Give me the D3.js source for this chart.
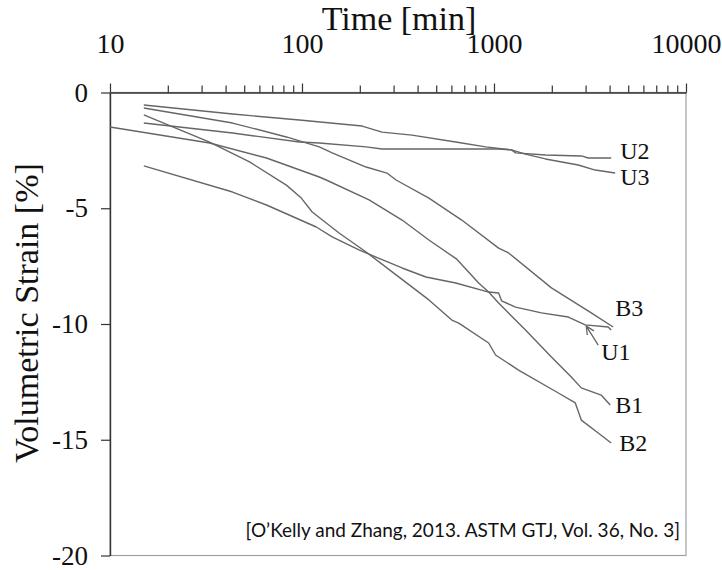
<!DOCTYPE html>
<html>
<head>
<meta charset="utf-8">
<script src="https://cdn.jsdelivr.net/npm/d3@7/dist/d3.min.js"></script>
<style>
  body { margin: 0; background: #fff; }
  svg { display: block; }
</style>
</head>
<body>
<script>
// time [min], volumetric strain [%]
var U2 = [[15,-1.32],[43.5,-1.75],[96.8,-2.14],[123,-2.18],[215.7,-2.35],[261,-2.44],[1057,-2.44],[1234,-2.48],[1295,-2.61],[1853,-2.70],[2849,-2.74],[3097,-2.83],[4077,-2.83]];
var U3 = [[15,-0.54],[43.5,-0.93],[96.8,-1.19],[205.6,-1.45],[261,-1.71],[374,-1.84],[632,-2.14],[904,-2.35],[1234,-2.48],[1459,-2.66],[1853,-2.87],[2748,-3.13],[3367,-3.35],[4276,-3.48]];
var B3 = [[15,-0.67],[43.5,-1.32],[82.9,-1.92],[123,-2.35],[143.6,-2.61],[215.7,-3.22],[277,-3.48],[309,-3.78],[458,-4.56],[679,-5.51],[1057,-6.72],[1191,-6.93],[1991,-8.44],[3210,-9.52],[4175,-10.13]];
var U1 = [[15,-3.17],[43.5,-4.30],[65.3,-4.86],[118.7,-5.81],[143.6,-6.24],[198,-6.80],[243,-7.11],[332,-7.58],[442,-7.97],[632,-8.23],[938,-8.62],[1057,-8.66],[1095,-9.0],[1295,-9.27],[1766,-9.52],[2439,-9.70],[2988,-10.04],[3933,-10.13],[4077,-10.26]];
var B1 = [[10,-1.49],[33,-2.18],[65.3,-2.83],[123,-3.65],[133.7,-3.78],[223.5,-4.64],[332,-5.51],[458,-6.37],[640,-7.2],[832,-8.23],[938,-8.62],[1057,-9.09],[1459,-10.26],[1991,-11.43],[2527,-12.29],[2849,-12.76],[3617,-13.07],[4029,-13.50]];
var B2 = [[15,-0.97],[33,-2.14],[53.3,-3.0],[82.9,-4.0],[99.2,-4.56],[113,-5.16],[156,-6.07],[215.7,-6.89],[309,-7.88],[458,-8.96],[603,-9.83],[655,-9.96],[938,-10.82],[1019,-11.34],[1342,-11.99],[2164,-12.98],[2651,-13.41],[2849,-14.15],[3490,-14.71],[4077,-15.14]];

var series = [U2, U3, B3, U1, B1, B2];
var labels = [["U2",4540,-2.52],["U3",4540,-3.63],["B3",4276,-9.31],["U1",3614,-11.21],["B1",4276,-13.5],["B2",4487,-15.14]];
var arrowU1 = [[3490,-10.91],[3024,-10.09]];

var xTicks = [10, 100, 1000, 10000];
var yTicks = [0, -5, -10, -15, -20];

var W = 722, H = 570;
var svg = d3.select("body").append("svg").attr("width", W).attr("height", H);

var x = d3.scaleLog().domain([10, 10000]).range([110, 686]);
var y = d3.scaleLinear().domain([0, -20]).range([92.5, 555.5]);

var serif = "'Liberation Serif', 'Times New Roman', serif";

// frame (right + bottom lighter)
svg.append("rect").attr("x", x(10)).attr("y", y(0))
  .attr("width", x(10000) - x(10)).attr("height", y(-20) - y(0))
  .attr("fill", "none").attr("stroke", "#a0a0a0").attr("stroke-width", 1.2);

// minor ticks
var minor = [];
[10, 100, 1000].forEach(function (d) { for (var k = 2; k < 10; k++) minor.push(d * k); });
svg.append("g").attr("transform", "translate(0," + y(0) + ")")
  .call(d3.axisTop(x).tickValues(minor).tickSize(7).tickFormat(""))
  .call(function (g) { g.select(".domain").remove(); })
  .selectAll("line").attr("stroke", "#333").attr("stroke-width", 1.2);

var topAxis = svg.append("g").attr("transform", "translate(0," + y(0) + ")")
  .call(d3.axisTop(x).tickValues(xTicks).tickSize(9).tickSizeOuter(0).tickPadding(31)
    .tickFormat(function (d) { return String(d); }));
topAxis.attr("font-size", 28).attr("font-family", serif);
topAxis.select(".domain").attr("stroke", "#333").attr("stroke-width", 1.4);
topAxis.selectAll("line").attr("stroke", "#333").attr("stroke-width", 1.2);
topAxis.selectAll("text").style("font-size", "28px").style("font-family", serif).attr("fill", "#111");

var leftAxis = svg.append("g").attr("transform", "translate(" + x(10) + ",0)")
  .call(d3.axisLeft(y).tickValues(yTicks).tickSize(9).tickSizeOuter(0).tickPadding(13)
    .tickFormat(function (d) { return String(d); }));
leftAxis.attr("font-size", 27).attr("font-family", serif);
leftAxis.select(".domain").attr("stroke", "#333").attr("stroke-width", 1.4);
leftAxis.selectAll("line").attr("stroke", "#333").attr("stroke-width", 1.2);
leftAxis.selectAll("text").style("font-size", "27px").style("font-family", serif).attr("fill", "#111");

svg.append("text").attr("x", 399).attr("y", 30).attr("text-anchor", "middle")
  .attr("font-family", serif).attr("font-size", 34).attr("fill", "#111").text("Time [min]");

svg.append("text").attr("transform", "translate(38,313) rotate(-90)").attr("text-anchor", "middle")
  .attr("font-family", serif).attr("font-size", 34).attr("fill", "#111").text("Volumetric Strain [%]");

var line = d3.line().x(function (d) { return x(d[0]); }).y(function (d) { return y(d[1]); });

svg.append("g").selectAll("path").data(series).enter().append("path")
  .attr("d", line).attr("fill", "none").attr("stroke", "#666").attr("stroke-width", 1.4)
  .attr("stroke-linejoin", "round");

svg.append("g").selectAll("text").data(labels).enter().append("text")
  .attr("x", function (d) { return x(d[1]); })
  .attr("y", function (d) { return y(d[2]); })
  .attr("dy", "0.35em")
  .attr("font-family", serif).attr("font-size", 24).attr("fill", "#111")
  .text(function (d) { return d[0]; });

// arrow pointing to U1
var a0 = arrowU1[0], a1 = arrowU1[1];
var tx = x(a1[0]), ty = y(a1[1]), sx = x(a0[0]), sy = y(a0[1]);
var ang = Math.atan2(sy - ty, sx - tx);
svg.append("path")
  .attr("d", "M" + sx + "," + sy + "L" + tx + "," + ty +
    "M" + (tx + 9 * Math.cos(ang - 0.45)) + "," + (ty + 9 * Math.sin(ang - 0.45)) +
    "L" + tx + "," + ty +
    "L" + (tx + 9 * Math.cos(ang + 0.45)) + "," + (ty + 9 * Math.sin(ang + 0.45)))
  .attr("fill", "none").attr("stroke", "#666").attr("stroke-width", 1.3);

svg.append("text").attr("x", 680).attr("y", 537).attr("text-anchor", "end")
  .attr("font-family", "Lato, 'Open Sans', sans-serif").attr("font-size", 19).attr("fill", "#111")
  .text("[O\u2019Kelly and Zhang, 2013. ASTM GTJ, Vol. 36, No. 3]");
</script>
</body>
</html>
